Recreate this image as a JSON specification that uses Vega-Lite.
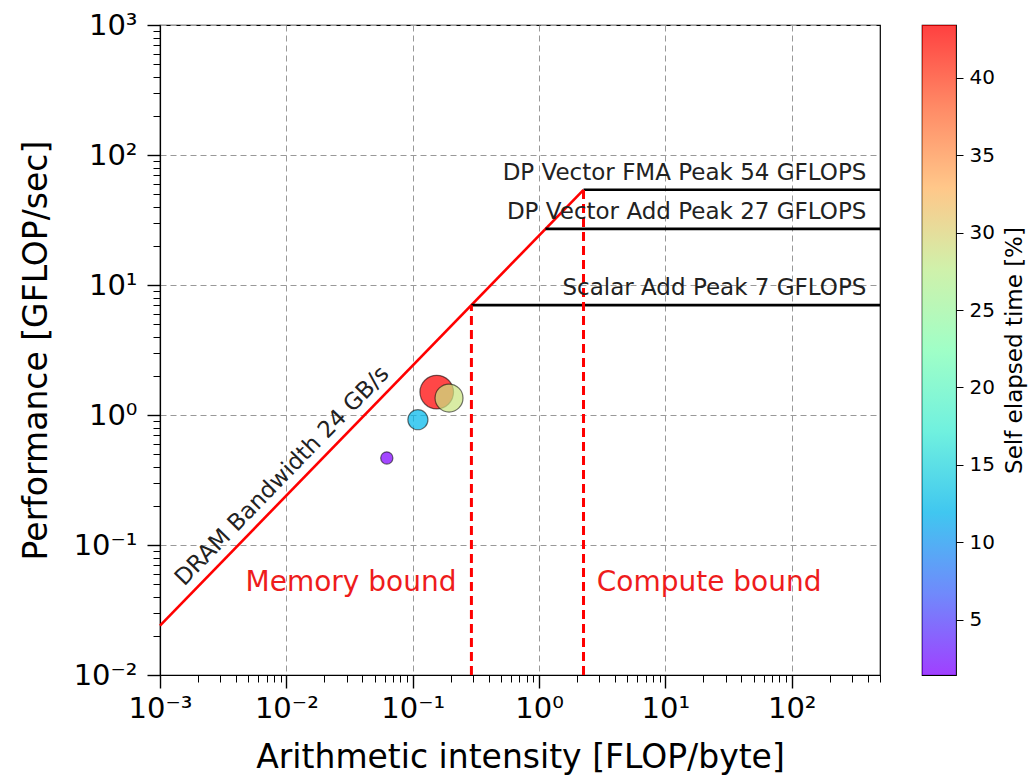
{
  "$schema": "https://vega.github.io/schema/vega-lite/v6.json",
  "padding": {"left": 19, "top": 10, "right": 0, "bottom": 0},
  "background": "white",
  "config": {
    "font": "DejaVu Sans",
    "view": {"stroke": "black", "strokeWidth": 1.2},
    "axis": {"labelColor": "black", "titleColor": "black", "titleFontWeight": "normal", "tickColor": "black", "domainColor": "black", "domainWidth": 1.2}
  },
  "datasets": {
    "points": [
      {"ai": 0.0624, "perf": 0.467, "time": 1.44},
      {"ai": 0.110, "perf": 0.92, "time": 12.3},
      {"ai": 0.155, "perf": 1.50, "time": 43.4},
      {"ai": 0.194, "perf": 1.35, "time": 28.5}
    ],
    "dram": [
      {"ai": 0.001, "perf": 0.024},
      {"ai": 2.25, "perf": 54}
    ],
    "peaks": [
      {"x1": 2.25, "x2": 500, "perf": 54, "label": "DP Vector FMA Peak 54 GFLOPS"},
      {"x1": 1.125, "x2": 500, "perf": 27, "label": "DP Vector Add Peak 27 GFLOPS"},
      {"x1": 0.2917, "x2": 500, "perf": 7, "label": "Scalar Add Peak 7 GFLOPS"}
    ],
    "ridges": [
      {"ai": 0.2917, "p1": 0.01, "p2": 7},
      {"ai": 2.25, "p1": 0.01, "p2": 54}
    ],
    "cbar": [{"lo": 1.44, "hi": 43.4}]
  },
  "hconcat": [
    {
      "width": 720,
      "height": 650,
      "layer": [
        {
          "data": {"name": "dram"},
          "mark": {"type": "line", "color": "#ff0000", "strokeWidth": 2.6},
          "encoding": {
            "x": {
              "field": "ai", "type": "quantitative",
              "scale": {"type": "log", "domain": [0.001, 500], "nice": false},
              "axis": {
                "title": "Arithmetic intensity [FLOP/byte]", "titleFontSize": 33, "titlePadding": 18,
                "values": [0.001,0.002,0.003,0.004,0.005,0.006,0.007,0.008,0.009,0.01,0.02,0.03,0.04,0.05,0.06,0.07,0.08,0.09,0.1,0.2,0.3,0.4,0.5,0.6,0.7,0.8,0.9,1,2,3,4,5,6,7,8,9,10,20,30,40,50,60,70,80,90,100,200,300,400,500],
                "labelExpr": "abs(log(datum.value)/LN10 - round(log(datum.value)/LN10)) < 0.001 ? '10' + ['⁻³','⁻²','⁻¹','⁰','¹','²','³'][round(log(datum.value)/LN10)+3] : ''",
                "labelFontSize": 29, "labelPadding": 6, "labelOverlap": false, "labelFlush": false,
                "tickSize": {"condition": {"test": "abs(log(datum.value)/LN10 - round(log(datum.value)/LN10)) < 0.001", "value": 13}, "value": 7},
                "tickWidth": {"condition": {"test": "abs(log(datum.value)/LN10 - round(log(datum.value)/LN10)) < 0.001", "value": 1.4}, "value": 1},
                "grid": true, "gridColor": "#999999", "gridDash": [6, 4], "gridWidth": 1,
                "gridOpacity": {"condition": {"test": "abs(log(datum.value)/LN10 - round(log(datum.value)/LN10)) < 0.001", "value": 1}, "value": 0}
              }
            },
            "y": {
              "field": "perf", "type": "quantitative",
              "scale": {"type": "log", "domain": [0.01, 1000], "nice": false},
              "axis": {
                "title": "Performance [GFLOP/sec]", "titleFontSize": 33, "titlePadding": 20,
                "values": [0.01,0.02,0.03,0.04,0.05,0.06,0.07,0.08,0.09,0.1,0.2,0.3,0.4,0.5,0.6,0.7,0.8,0.9,1,2,3,4,5,6,7,8,9,10,20,30,40,50,60,70,80,90,100,200,300,400,500,600,700,800,900,1000],
                "labelExpr": "abs(log(datum.value)/LN10 - round(log(datum.value)/LN10)) < 0.001 ? '10' + ['⁻³','⁻²','⁻¹','⁰','¹','²','³'][round(log(datum.value)/LN10)+3] : ''",
                "labelFontSize": 29, "labelPadding": 10, "labelOverlap": false, "labelFlush": false,
                "tickSize": {"condition": {"test": "abs(log(datum.value)/LN10 - round(log(datum.value)/LN10)) < 0.001", "value": 13}, "value": 7},
                "tickWidth": {"condition": {"test": "abs(log(datum.value)/LN10 - round(log(datum.value)/LN10)) < 0.001", "value": 1.4}, "value": 1},
                "grid": true, "gridColor": "#999999", "gridDash": [6, 4], "gridWidth": 1,
                "gridOpacity": {"condition": {"test": "abs(log(datum.value)/LN10 - round(log(datum.value)/LN10)) < 0.001", "value": 1}, "value": 0}
              }
            }
          }
        },
        {
          "data": {"name": "peaks"},
          "mark": {"type": "rule", "color": "black", "strokeWidth": 2.6},
          "encoding": {
            "x": {"field": "x1", "type": "quantitative"},
            "x2": {"field": "x2"},
            "y": {"field": "perf", "type": "quantitative"}
          }
        },
        {
          "data": {"name": "ridges"},
          "mark": {"type": "rule", "color": "#ff0000", "strokeWidth": 3, "strokeDash": [9, 5]},
          "encoding": {
            "x": {"field": "ai", "type": "quantitative"},
            "y": {"field": "p1", "type": "quantitative"},
            "y2": {"field": "p2"}
          }
        },
        {
          "data": {"name": "peaks"},
          "mark": {"type": "text", "align": "right", "baseline": "alphabetic", "dy": -10, "fontSize": 23, "color": "#222222"},
          "encoding": {
            "x": {"datum": 390, "type": "quantitative"},
            "y": {"field": "perf", "type": "quantitative"},
            "text": {"field": "label"}
          }
        },
        {
          "data": {"name": "cbar"},
          "mark": {"type": "text", "align": "center", "baseline": "middle", "angle": -45.8, "fontSize": 23, "color": "#222222", "text": "DRAM Bandwidth 24 GB/s"},
          "encoding": {
            "x": {"datum": 0.00925, "type": "quantitative"},
            "y": {"datum": 0.34, "type": "quantitative"}
          }
        },
        {
          "data": {"name": "cbar"},
          "mark": {"type": "text", "align": "center", "baseline": "alphabetic", "fontSize": 28, "color": "#ee1c1c", "text": "Memory bound"},
          "encoding": {
            "x": {"datum": 0.0325, "type": "quantitative"},
            "y": {"datum": 0.0445, "type": "quantitative"}
          }
        },
        {
          "data": {"name": "cbar"},
          "mark": {"type": "text", "align": "center", "baseline": "alphabetic", "fontSize": 28, "color": "#ee1c1c", "text": "Compute bound"},
          "encoding": {
            "x": {"datum": 22.2, "type": "quantitative"},
            "y": {"datum": 0.0445, "type": "quantitative"}
          }
        },
        {
          "data": {"name": "points"},
          "mark": {"type": "circle", "fillOpacity": 0.72, "stroke": "#000000", "strokeOpacity": 0.55, "strokeWidth": 1.2},
          "encoding": {
            "x": {"field": "ai", "type": "quantitative"},
            "y": {"field": "perf", "type": "quantitative"},
            "color": {
              "field": "time", "type": "quantitative",
              "scale": {"domain": [1.44, 6.685, 11.93, 17.175, 22.42, 27.665, 32.91, 38.155, 43.4], "range": ["#8000ff", "#4062fa", "#00b4eb", "#40ecd4", "#80ffb4", "#c0ec8e", "#ffb462", "#ff6232", "#ff0000"]},
              "legend": null
            },
            "size": {
              "field": "time", "type": "quantitative",
              "scale": {"domain": [1.44, 43.4], "range": [150, 1129], "zero": false},
              "legend": null
            }
          }
        }
      ]
    },
    {
      "width": 34,
      "height": 650,
      "data": {"name": "cbar"},
      "mark": {
        "type": "rect",
        "fillOpacity": 0.75,
        "fill": {
          "gradient": "linear", "x1": 0, "y1": 1, "x2": 0, "y2": 0,
          "stops": [
            {"offset": 0, "color": "#8000ff"},
            {"offset": 0.125, "color": "#4062fa"},
            {"offset": 0.25, "color": "#00b4eb"},
            {"offset": 0.375, "color": "#40ecd4"},
            {"offset": 0.5, "color": "#80ffb4"},
            {"offset": 0.625, "color": "#c0ec8e"},
            {"offset": 0.75, "color": "#ffb462"},
            {"offset": 0.875, "color": "#ff6232"},
            {"offset": 1, "color": "#ff0000"}
          ]
        }
      },
      "encoding": {
        "y": {
          "field": "lo", "type": "quantitative",
          "scale": {"domain": [1.44, 43.4], "nice": false, "zero": false},
          "axis": {
            "orient": "right", "values": [5, 10, 15, 20, 25, 30, 35, 40],
            "title": "Self elapsed time [%]", "titleFontSize": 23, "titleAngle": -90, "titleBaseline": "top", "titlePadding": 9,
            "labelFontSize": 20, "labelPadding": 6, "tickSize": 7, "tickWidth": 1, "domain": false, "grid": false
          }
        },
        "y2": {"field": "hi"}
      }
    }
  ],
  "spacing": 39
}
